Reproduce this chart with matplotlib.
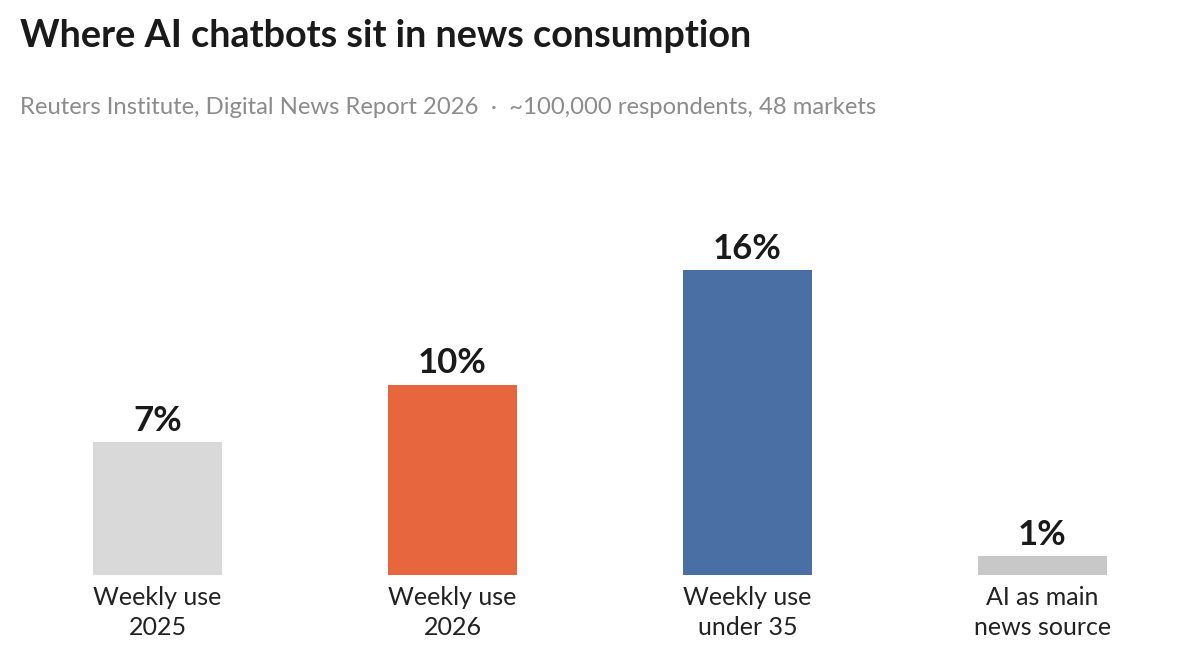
import matplotlib
matplotlib.use('Agg')
import matplotlib.pyplot as plt
import matplotlib.transforms as mtransforms

plt.rcParams['font.family'] = ['Lato', 'DejaVu Sans']

categories = ['Weekly use\n2025', 'Weekly use\n2026', 'Weekly use\nunder 35', 'AI as main\nnews source']
values = [7, 10, 16, 1]
value_labels = ['7%', '10%', '16%', '1%']
colors = ['#d9d9d9', '#e8663d', '#4a6fa5', '#c8c8c8']

title = 'Where AI chatbots sit in news consumption'
subtitle = 'Reuters Institute, Digital News Report 2026  \u00b7  ~100,000 respondents, 48 markets'

W, H = 1178, 661
fig = plt.figure(figsize=(W / 100, H / 100), dpi=100)
fig.patch.set_facecolor('white')

# axes placed so the baseline sits at y=575px and bars are spaced 295px apart
ax = fig.add_axes([0, (H - 575) / H, 1, 381 / H])
x = list(range(len(values)))
ax.bar(x, values, width=129 / 295, color=colors)
ax.set_xlim(-157.5 / 295, (W - 157.5) / 295)
ax.set_ylim(0, 20)
ax.axis('off')

for xi, v, lab in zip(x, values, value_labels):
    ax.annotate(lab, (xi, v), xytext=(0, 8), textcoords='offset points',
                ha='center', va='baseline', fontsize=25, fontweight='bold', color='#1a1a1a')

trans = mtransforms.blended_transform_factory(ax.transData, fig.transFigure)
for xi, cat in zip(x, categories):
    ax.text(xi, (H - 586) / H, cat, transform=trans, ha='center', va='top',
            fontsize=18, color='#222222', linespacing=1.36)

fig.text(20 / W, 1 - 36 / H, title, ha='left', va='center', fontsize=27.2,
         fontweight='bold', color='#1a1a1a')
fig.text(20 / W, 1 - 108 / H, subtitle, ha='left', va='center', fontsize=17.2,
         color='#8c8c8c')

plt.savefig('out.png', dpi=100, facecolor='white')
